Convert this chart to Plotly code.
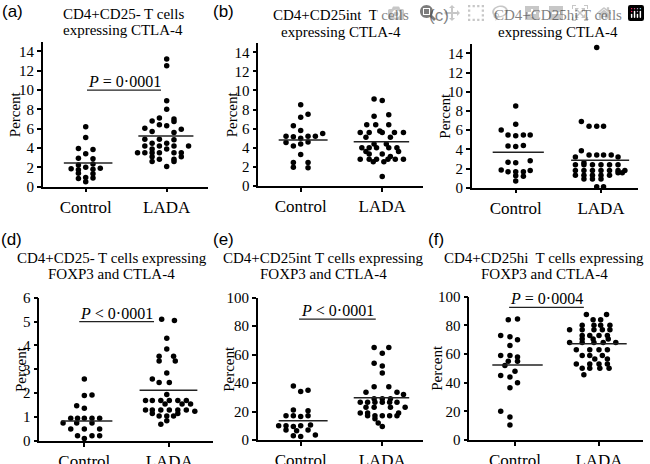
import plotly.graph_objects as go

categories = ["Control", "LADA"]
panel_labels = ["(a)", "(b)", "(c)", "(d)", "(e)", "(f)"]
titles = [
    ["CD4+CD25- T cells", "expressing CTLA-4"],
    ["CD4+CD25int  T cells", "expressing CTLA-4"],
    ["CD4+CD25hi T cells", "expressing CTLA-4"],
    ["CD4+CD25- T cells expressing", "FOXP3 and CTLA-4"],
    ["CD4+CD25int T cells expressing", "FOXP3 and CTLA-4"],
    ["CD4+CD25hi  T cells expressing", "FOXP3 and CTLA-4"],
]
p_texts = ["<i>P</i> = 0·0001", None, None, "<i>P</i> < 0·0001", "<i>P</i> < 0·0001", "<i>P</i> = 0·0004"]
p_levels = [10, None, None, 5, 85, 92.5]
y_max = [15, 15, 15, 6, 100, 100]
y_dtick = [2, 2, 2, 1, 20, 20]

# ---- panel (a) ----
a_ctrl_y = [6.2, 5.1, 3.95, 3.85, 3.4, 2.95, 2.9, 2.35, 2.25, 2.0, 1.9, 1.85, 1.8, 1.75, 1.4, 1.35, 0.95, 0.9, 0.85, 0.5]
a_ctrl_dx = [0, 0, -0.09, 0.09, 0, -0.09, 0.09, 0.09, -0.09, 0, 0.18, -0.18, 0.09, -0.09, -0.09, 0.09, 0, 0.09, -0.09, 0]
a_lada_y = [13.2, 12.5, 8.9, 8.0, 7.1, 7.0, 6.8, 6.75, 6.4, 6.3, 6.05, 5.95, 5.7, 5.6,
            4.9, 4.9, 4.85, 4.5, 4.5, 4.2, 4.2, 4.2, 4.2, 3.9, 3.9,
            3.5, 3.5, 3.5, 3.5, 3.5, 3.5, 3.1, 3.1, 2.85, 2.85, 2.6, 2.6, 2.1]
a_lada_dx = [0, 0, 0, 0, -0.09, 0.09, -0.18, 0.09, -0.09, 0.0, -0.27, 0.18, -0.18, 0.09,
             -0.27, -0.09, 0.09, -0.18, 0.0, -0.27, -0.09, 0.09, 0.27, -0.18, 0.0,
             -0.36, -0.27, -0.18, -0.09, 0.09, 0.18, -0.18, 0.18, -0.09, 0.09, -0.18, 0.09, 0]
a_medians = [2.45, 5.25]

# ---- panel (b) ----
b_ctrl_y = [8.5, 7.5, 7.2, 6.3, 5.8, 5.5, 5.2, 5.15, 5.2, 5.2, 5.0, 4.55, 4.4, 4.6, 4.2, 3.3, 2.45, 2.45, 1.95, 1.9]
b_ctrl_dx = [0, 0.09, 0, -0.09, 0, 0.27, -0.18, -0.09, 0.09, 0.18, 0.0, -0.18, 0.0, 0.09, -0.09, 0, -0.09, 0.09, -0.09, 0.09]
b_lada_y = [9.1, 8.95, 7.3, 7.45, 6.4, 6.4, 6.4, 5.75, 5.6, 5.6, 5.6, 5.6, 5.6, 5.1, 5.1,
            4.4, 4.4, 4.0, 4.0, 4.0, 4.0, 4.0, 3.6, 3.6, 3.35, 3.35, 3.1,
            2.8, 2.8, 2.8, 2.8, 2.8, 2.8, 2.55, 2.55, 1.0]
b_lada_dx = [-0.1, 0.0, -0.1, 0.08, -0.19, -0.08, 0.08, -0.03, -0.27, -0.16, 0.0, 0.15, 0.26, -0.2, 0.1,
             -0.1, 0.05, -0.25, -0.16, -0.07, 0.08, 0.18, -0.2, 0.2, -0.16, 0.0, 0.1,
             -0.27, -0.16, -0.07, 0.07, 0.16, 0.26, -0.11, 0.02, 0.0]
b_medians = [4.82, 4.64]

# ---- panel (c) ----
c_ctrl_y = [8.5, 6.6, 6.0, 5.5, 5.4, 5.5, 5.5, 4.35, 4.3, 4.4, 2.65, 2.6, 2.8, 1.85, 1.8, 1.65, 1.65, 1.65, 1.2, 1.25, 0.7]
c_ctrl_dx = [0, 0, -0.17, -0.09, 0.0, 0.09, 0.17, -0.09, 0.0, 0.09, -0.09, 0.0, 0.17, -0.17, 0.17, -0.09, 0.0, 0.09, 0.09, 0.0, 0]
c_lada_y = [14.6, 6.9, 6.4, 6.4, 6.4, 3.85, 3.4, 3.4, 3.4, 3.4, 3.2, 3.2, 2.6,
            2.4, 2.4, 2.4, 2.4, 2.4, 2.4, 1.8, 1.8, 1.8, 1.8, 1.8, 1.8, 1.8, 1.55, 1.55,
            1.3, 1.3, 1.3, 1.3, 1.3, 0.9, 0.9, 0.9, 0.1, 0.1]
c_lada_dx = [-0.05, -0.23, -0.14, -0.05, 0.03, -0.23, -0.14, -0.05, 0.03, 0.12, -0.3, 0.2, -0.2,
             -0.3, -0.2, -0.1, 0.0, 0.1, 0.2, -0.3, -0.2, -0.1, 0.0, 0.1, 0.2, 0.28, 0.2, 0.25,
             -0.3, -0.2, -0.1, 0.0, 0.1, -0.2, -0.1, 0.0, -0.05, 0.03]
c_medians = [3.68, 2.85]

# ---- panel (d) ----
d_ctrl_y = [2.6, 1.9, 1.93, 1.48, 1.37, 0.95, 0.95, 0.95, 0.95, 0.95, 0.75, 0.75, 0.75, 0.5, 0.5, 0.5, 0.22, 0.22, 0.22, 0.1]
d_ctrl_dx = [0, 0, 0.09, -0.09, 0, -0.16, -0.08, 0.0, 0.09, 0.18, -0.25, -0.09, 0.09, -0.16, 0.0, 0.18, -0.08, 0.09, 0.18, 0]
d_lada_y = [5.1, 5.05, 4.3, 3.85, 3.55, 3.55, 3.35, 3.35, 2.85, 2.6, 2.45, 2.45, 1.95,
            1.7, 1.7, 1.7, 1.7, 1.7, 1.7, 1.55, 1.55, 1.55, 1.3, 1.3, 1.3, 1.3, 1.3, 1.3, 1.25,
            1.15, 1.15, 1.05, 1.05, 1.05, 0.85, 0.7]
d_lada_dx = [-0.09, 0.06, -0.03, -0.03, -0.12, 0.05, -0.12, 0.07, -0.03, -0.2, -0.12, 0.0, -0.03,
             -0.28, -0.2, -0.1, 0.0, 0.1, 0.2, -0.05, 0.15, 0.25, -0.28, -0.2, -0.1, 0.0, 0.1, 0.2, 0.3,
             -0.2, 0.1, -0.12, -0.03, 0.05, -0.03, -0.1]
d_medians = [0.84, 2.13]

# ---- panel (e) ----
e_ctrl_y = [38, 35, 34, 21, 20.5, 17, 17, 16.5, 17, 10, 10, 9.5, 10, 10.5, 7, 6.5, 7, 3, 2.5, 3.5]
e_ctrl_dx = [-0.09, 0.09, 0.0, -0.09, 0.09, -0.18, -0.09, 0.0, 0.09, -0.27, -0.18, -0.09, 0.0, 0.12, -0.18, -0.05, 0.09, -0.09, 0.0, 0.18]
e_lada_y = [65, 65, 61, 54, 52, 47, 37.5, 37.5, 33.5, 33.5, 32,
            29, 29, 29, 26.5, 26.5, 26.5, 26.5, 26.5, 26.5, 23, 23, 23, 23,
            19, 19, 19, 17, 17, 17, 17, 17, 15, 12, 9.5]
e_lada_dx = [-0.1, 0.08, 0.0, -0.1, 0.0, 0.0, -0.1, 0.08, -0.2, 0.18, 0.26,
             -0.1, 0.0, 0.1, -0.27, -0.18, -0.09, 0.0, 0.09, 0.18, -0.2, -0.1, 0.1, 0.28,
             -0.27, -0.18, 0.2, -0.18, -0.09, 0.0, 0.09, 0.18, -0.09, -0.05, 0.0]
e_medians = [13.6, 29.7]

# ---- panel (f) ----
f_ctrl_y = [84, 84.5, 73, 72, 70, 66, 59, 59, 58, 55, 55, 52, 48, 45, 44, 40, 36.5, 20, 16, 10.5]
f_ctrl_dx = [-0.08, 0.03, -0.17, -0.06, 0.03, -0.06, -0.17, -0.06, 0.03, -0.08, 0.03, -0.12, 0.0, -0.17, -0.06, 0.03, -0.06, -0.17, -0.06, -0.06]
f_lada_y = [87.5, 87.5, 84, 84, 80, 80, 80, 80, 77, 77, 77, 77, 77, 73, 73, 73, 73, 70.5, 70.5, 70.5,
            68, 68, 68, 68, 68, 63, 63, 63, 63, 59, 59, 59, 56.5, 56.5, 53, 53, 53, 53,
            50, 50, 50, 50, 45.5]
f_lada_dx = [-0.15, 0.09, -0.07, 0.02, -0.2, -0.06, 0.02, 0.13, -0.35, -0.2, -0.06, 0.04, 0.13,
             -0.2, -0.11, 0.0, 0.1, -0.2, -0.07, 0.11,
             -0.35, -0.2, -0.06, 0.05, 0.2, -0.27, -0.11, 0.0, 0.1, -0.2, -0.11, 0.04, -0.05, 0.1,
             -0.27, -0.11, 0.0, 0.1, -0.2, -0.11, 0.01, 0.12, -0.18]
f_medians = [52.3, 67.2]

panels = [
    (a_ctrl_y, a_ctrl_dx, a_lada_y, a_lada_dx, a_medians),
    (b_ctrl_y, b_ctrl_dx, b_lada_y, b_lada_dx, b_medians),
    (c_ctrl_y, c_ctrl_dx, c_lada_y, c_lada_dx, c_medians),
    (d_ctrl_y, d_ctrl_dx, d_lada_y, d_lada_dx, d_medians),
    (e_ctrl_y, e_ctrl_dx, e_lada_y, e_lada_dx, e_medians),
    (f_ctrl_y, f_ctrl_dx, f_lada_y, f_lada_dx, f_medians),
]

W, H = 650, 464
geom = [
    (42.7, 208.0, 186.7, 41.7, -0.531, 1.51),
    (258.3, 423.0, 186.0, 42.7, -0.52, 1.50),
    (471.7, 638.0, 187.7, 43.7, -0.516, 1.434),
    (39.3, 213.0, 441.0, 297.7, -0.53, 1.514),
    (257.7, 423.0, 440.0, 297.7, -0.527, 1.499),
    (469.3, 643.0, 440.0, 296.7, -0.544, 1.524),
]
title_pos = [(123, 14, 30.5), (341, 15, 32), (557.5, 15, 31.7), (111.5, 258.3, 274.3), (323, 258.3, 274.3), (544, 258.3, 274.3)]
label_pos = [(12, 12), (223.5, 12), (439, 15.5), (11.7, 239), (223, 239), (436, 239)]
ylabel_x = [15, 232, 445, 21.7, 229, 437.5]
p_span = [(0.016, 0.93), None, None, (-0.06, 0.82), (-0.02, 0.92), (-0.07, 0.82)]

SERIF = "Liberation Serif, serif"
SANS = "Liberation Sans, sans-serif"

fig = go.Figure()
fig.update_layout(
    template="none",
    width=W, height=H, margin=dict(l=0, r=0, t=0, b=0),
    paper_bgcolor="white", plot_bgcolor="white", showlegend=False,
    font=dict(family=SERIF, size=15, color="black"),
)

for i, (cy, cdx, ly, ldx, med) in enumerate(panels):
    n = i + 1
    xa = "xaxis" if n == 1 else f"xaxis{n}"
    ya = "yaxis" if n == 1 else f"yaxis{n}"
    xr = "x" if n == 1 else f"x{n}"
    yr = "y" if n == 1 else f"y{n}"
    left, right, y0px, toppx, xmin, xmax = geom[i]
    fig.update_layout({
        xa: dict(
            domain=[left / W, right / W], range=[xmin, xmax], anchor=yr,
            tickmode="array", tickvals=[0, 1], ticktext=categories,
            showline=True, linecolor="black", linewidth=1.5,
            ticks="outside", ticklen=4, tickwidth=1.5, tickcolor="black", showgrid=False, zeroline=False,
            tickfont=dict(family=SERIF, size=17, color="black"),
        ),
        ya: dict(
            domain=[1 - y0px / H, 1 - toppx / H], range=[0, y_max[i]], anchor=xr,
            tickmode="linear", tick0=0, dtick=y_dtick[i], showline=True, linecolor="black", linewidth=1.5,
            ticks="outside", ticklen=4, tickwidth=1.5, tickcolor="black", showgrid=False, zeroline=False,
            tickfont=dict(family=SERIF, size=15, color="black"),
        ),
    })
    xs_c = [0 + d for d in cdx]
    xs_l = [1 + d for d in ldx]
    fig.add_trace(go.Scatter(x=xs_c + xs_l, y=list(cy) + list(ly), mode="markers",
                             marker=dict(color="black", size=5.5), xaxis=xr, yaxis=yr, cliponaxis=False))
    for k, (lo, hi) in enumerate([(-0.27, 0.33), (0.65, 1.33)]):
        fig.add_trace(go.Scatter(x=[lo, hi], y=[med[k], med[k]], mode="lines",
                                 line=dict(color="#222", width=1.5), xaxis=xr, yaxis=yr))
    tx, ty1, ty2 = title_pos[i]
    for line, ty in zip(titles[i], (ty1, ty2)):
        fig.add_annotation(text=line, x=tx / W, y=1 - ty / H, xref="paper", yref="paper",
                           xanchor="center", yanchor="middle", showarrow=False,
                           font=dict(family=SERIF, size=15, color="black"))
    lx, lyy = label_pos[i]
    fig.add_annotation(text=panel_labels[i], x=lx / W, y=1 - lyy / H, xref="paper", yref="paper",
                       xanchor="center", yanchor="middle", showarrow=False,
                       font=dict(family=SANS, size=17, color="black"))
    fig.add_annotation(text="Percent", x=ylabel_x[i] / W, y=1 - ((y0px + toppx) / 2) / H,
                       xref="paper", yref="paper", xanchor="center", yanchor="middle",
                       textangle=-90, showarrow=False,
                       font=dict(family=SERIF, size=15, color="black"))
    if p_texts[i]:
        x0, x1 = p_span[i]
        fig.add_trace(go.Scatter(x=[x0, x1], y=[p_levels[i], p_levels[i]], mode="lines",
                                 line=dict(color="#222", width=1.3), xaxis=xr, yaxis=yr))
        fig.add_annotation(text=p_texts[i], x=(x0 + x1) / 2, y=p_levels[i], xref=xr, yref=yr,
                           xanchor="center", yanchor="bottom", yshift=-2, showarrow=False,
                           font=dict(family=SERIF, size=16, color="black"))

fig.write_html(
    "out.html",
    post_script="document.body.style.margin='0';document.body.style.padding='0';document.body.style.overflow='hidden';",
)
